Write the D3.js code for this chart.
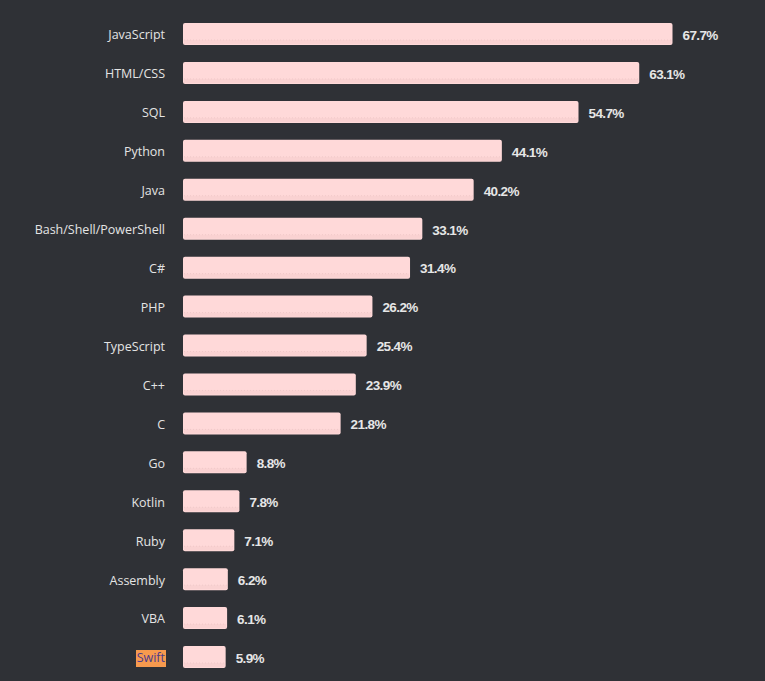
<!DOCTYPE html>
<html><head><meta charset="utf-8">
<script src="https://cdn.jsdelivr.net/npm/d3@7"></script>
<style>
html,body{margin:0;padding:0;background:#2f3136;}
svg{display:block;}
</style></head>
<body>
<svg id="chart" width="765" height="681"></svg>
<script>
const categories = ["JavaScript","HTML/CSS","SQL","Python","Java","Bash/Shell/PowerShell","C#","PHP","TypeScript","C++","C","Go","Kotlin","Ruby","Assembly","VBA","Swift"];
const values = [67.7,63.1,54.7,44.1,40.2,33.1,31.4,26.2,25.4,23.9,21.8,8.8,7.8,7.1,6.2,6.1,5.9];
const highlighted = ["Swift"];

const svg = d3.select("#chart");
svg.append("rect").attr("width",765).attr("height",681).attr("fill","#2f3136");

const x = d3.scaleLinear().domain([0, 67.7]).range([183, 672.5]);
const y = d3.scalePoint().domain(categories).range([34, 657]);
const barH = 22;

const rows = svg.selectAll("g.row").data(categories.map((c,i)=>({c, v: values[i]})))
  .enter().append("g").attr("class","row");

rows.append("rect")
  .attr("x", x(0)).attr("y", d => y(d.c) - barH/2)
  .attr("width", d => x(d.v) - x(0)).attr("height", barH)
  .attr("rx", 2).attr("fill", "#ffd9d9");

rows.append("rect")
  .attr("x", x(0)+1).attr("y", d => y(d.c) + barH/2 - 5)
  .attr("width", d => x(d.v) - x(0) - 2).attr("height", 4)
  .attr("fill", "#fad2d2");

rows.append("line")
  .attr("x1", x(0)+1).attr("x2", d => x(d.v) - 1)
  .attr("y1", d => y(d.c) + barH/2 - 5).attr("y2", d => y(d.c) + barH/2 - 5)
  .attr("stroke", "#f0c9c9").attr("stroke-width", 1).attr("stroke-dasharray", "1,2");

// highlight box behind Swift
rows.filter(d => highlighted.includes(d.c)).append("rect")
  .attr("x", 136).attr("y", d => y(d.c) - 7)
  .attr("width", 30).attr("height", 17)
  .attr("fill", "#f79a4e");

rows.append("text")
  .attr("x", 165).attr("y", d => y(d.c) + 1).attr("dy", "0.35em")
  .attr("text-anchor", "end")
  .attr("font-family", "'Open Sans', sans-serif").attr("font-size", 12.5)
  .attr("fill", d => highlighted.includes(d.c) ? "#4b3a8c" : "#e4e4e4")
  .text(d => d.c);

rows.append("text")
  .attr("x", d => x(d.v) + 10).attr("y", d => y(d.c) + 1).attr("dy", "0.36em")
  .attr("font-family", "'Liberation Sans', Arial, sans-serif").attr("font-weight", "bold")
  .attr("font-size", 13.5).attr("letter-spacing", "-0.6px")
  .attr("fill", "#e6e6e6")
  .text(d => d.v.toFixed(1) + "%");
</script>
</body></html>
